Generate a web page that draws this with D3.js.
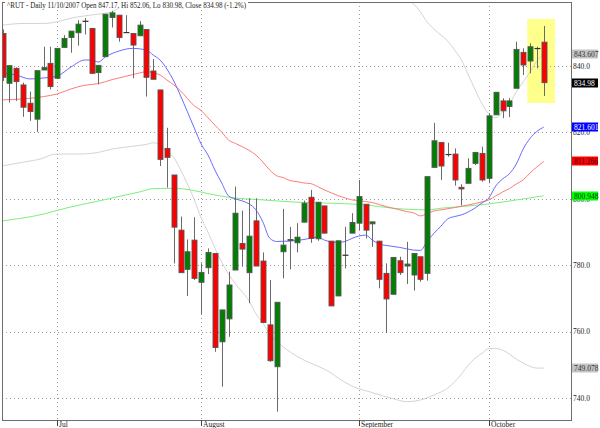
<!DOCTYPE html>
<html><head><meta charset="utf-8">
<script src="https://cdn.jsdelivr.net/npm/d3@7"></script>
<style>body{margin:0;background:#fff}svg{display:block}</style>
</head><body><svg id="c" width="600" height="428"></svg>
<script>
const dates = [
"2007-06-20","2007-06-21","2007-06-22","2007-06-25","2007-06-26","2007-06-27","2007-06-28","2007-06-29",
"2007-07-02","2007-07-03","2007-07-05","2007-07-06","2007-07-09","2007-07-10","2007-07-11","2007-07-12","2007-07-13",
"2007-07-16","2007-07-17","2007-07-18","2007-07-19","2007-07-20","2007-07-23","2007-07-24","2007-07-25","2007-07-26","2007-07-27","2007-07-30","2007-07-31",
"2007-08-01","2007-08-02","2007-08-03","2007-08-06","2007-08-07","2007-08-08","2007-08-09","2007-08-10","2007-08-13","2007-08-14","2007-08-15","2007-08-16","2007-08-17",
"2007-08-20","2007-08-21","2007-08-22","2007-08-23","2007-08-24","2007-08-27","2007-08-28","2007-08-29","2007-08-30","2007-08-31",
"2007-09-04","2007-09-05","2007-09-06","2007-09-07","2007-09-10","2007-09-11","2007-09-12","2007-09-13","2007-09-14",
"2007-09-17","2007-09-18","2007-09-19","2007-09-20","2007-09-21","2007-09-24","2007-09-25","2007-09-26","2007-09-27","2007-09-28",
"2007-10-01","2007-10-02","2007-10-03","2007-10-04","2007-10-05","2007-10-08","2007-10-09","2007-10-10","2007-10-11"];

const open = [849.8,834.8,839.3,834.3,828.8,824.0,838.8,840.8,836.3,845.6,
848.6,850.0,853.5,851.3,838.0,842.8,854.6,855.3,850.1,849.8,
849.1,851.0,838.5,832.8,815.2,807.2,790.6,778.8,787.6,774.9,
779.3,783.6,757.0,763.9,778.6,786.6,777.8,793.4,781.3,762.1,
749.5,784.1,787.8,786.8,793.0,800.5,788.0,797.9,787.3,770.8,
783.1,789.7,792.7,798.4,792.5,787.3,777.6,771.3,781.4,779.8,
777.1,782.6,777.6,809.5,817.0,813.4,813.5,803.5,804.7,810.7,
813.7,806.2,825.3,829.5,827.8,833.3,844.1,841.5,845.3,847.17];
const high = [851.0,840.1,839.6,835.0,832.3,838.6,845.8,845.8,845.3,849.3,
850.5,853.8,854.4,851.3,840.2,855.6,856.6,855.3,855.3,849.8,
853.5,851.0,842.1,832.8,821.4,807.2,794.7,787.8,794.5,780.6,
785.1,783.6,766.6,778.1,803.7,796.5,800.2,800.2,783.9,775.6,
768.9,797.0,791.6,792.7,799.5,802.7,799.0,797.9,787.3,787.4,
791.6,795.7,805.7,798.4,793.1,787.3,780.6,782.4,782.6,787.1,
783.6,782.6,806.7,822.9,817.0,816.9,815.2,804.4,812.2,814.0,
815.7,825.8,832.1,830.3,830.3,847.3,845.3,846.8,845.8,852.06];
const low = [835.5,829.0,829.5,824.7,823.5,820.2,838.8,833.0,836.3,845.6,
844.0,846.1,849.5,837.6,834.5,842.8,851.6,847.3,850.0,836.3,
849.1,830.8,836.0,809.9,803.4,780.6,777.8,770.8,775.6,765.4,
777.4,754.0,743.5,758.5,778.6,779.6,768.6,779.8,762.8,751.0,
736.0,776.1,778.8,783.9,793.0,786.8,787.4,789.7,767.8,770.8,
779.1,789.7,790.6,788.1,785.6,773.1,759.6,771.3,777.1,774.4,
772.4,775.1,775.4,809.5,805.7,812.7,804.0,798.0,804.7,810.2,
805.2,804.7,825.3,824.3,824.6,833.3,837.3,837.8,839.3,830.98];
const close = [836.6,840.1,835.3,827.6,826.3,838.6,839.5,833.8,845.3,848.3,
850.5,852.6,853.5,837.8,840.2,855.6,856.0,848.6,850.1,846.3,
852.3,836.6,836.0,811.9,812.5,791.5,777.8,784.1,776.1,777.9,
783.9,755.3,766.6,774.1,795.7,784.9,788.8,779.8,762.8,751.3,
768.9,786.1,787.5,788.5,798.7,788.1,799.0,789.7,767.8,787.4,
783.1,792.9,800.7,790.6,793.1,775.8,769.9,782.4,777.8,780.4,
783.6,775.8,806.7,817.5,809.9,813.4,805.7,803.0,809.2,814.0,
805.7,825.0,832.1,826.5,829.5,845.0,840.3,845.8,845.3,834.98];

// [candle index, value]
const maBlue = [[0,837.9],[2,837.3],[4,836.1],[6,836.4],[8,837.0],[10,839.7],[12,841.8],[13,841.8],[14,841.2],[15,842.7],[17,844.5],[19,845.3],[21,844.8],[22,843.3],[23,841.8],[24,839.1],[25,835.5],[26,831.0],[27,826.2],[28,821.3],[29,816.5],[30,813.2],[31,808.7],[32,804.8],[33,800.9],[34,800.0],[35,799.4],[36,798.5],[37,796.7],[38,793.1],[39,788.2],[40,787.2],[42,787.3],[44,787.8],[46,788.5],[47,787.6],[49,786.9],[50,787.2],[51,788.1],[52,788.8],[53,789.1],[54,787.6],[55,786.4],[56,786.0],[58,785.4],[60,784.6],[61,784.5],[62,787.3],[63,789.7],[64,791.8],[65,794.0],[66,794.7],[67,795.2],[68,796.1],[69,797.3],[70,798.8],[71,800.3],[72,803.9],[73,806.0],[74,807.6],[75,810.5],[76,815.0],[77,818.2],[78,820.3],[79,821.601]];
const maRed = [[0,829.8],[3,830.1],[6,830.8],[8,831.6],[10,833.1],[12,834.2],[14,834.7],[16,835.9],[18,836.9],[20,837.9],[21,838.3],[22,838.0],[23,837.3],[24,835.8],[25,834.3],[26,832.5],[27,830.2],[28,828.0],[29,826.6],[30,824.4],[31,822.2],[32,820.1],[33,817.7],[34,816.7],[35,815.7],[36,814.6],[37,813.2],[38,811.1],[39,808.7],[40,807.0],[41,806.4],[42,805.5],[43,805.2],[44,804.8],[45,804.6],[46,803.7],[47,802.7],[48,801.8],[49,801.0],[50,800.3],[51,799.7],[52,799.5],[53,799.2],[54,798.9],[55,798.3],[56,797.7],[57,797.2],[58,796.7],[59,796.2],[60,795.8],[61,794.9],[62,795.6],[63,796.4],[64,796.7],[66,797.4],[68,798.2],[70,799.1],[71,799.7],[72,800.9],[73,802.1],[74,803.1],[75,804.5],[76,805.7],[77,807.8],[78,809.6],[79,811.266]];
const maGreen = [[0,793.4],[5,795.0],[10,797.6],[15,799.8],[18,801.2],[20,802.1],[22,803.1],[25,803.2],[28,802.5],[30,801.6],[33,800.5],[38,799.7],[43,799.0],[48,798.7],[53,798.2],[57,797.2],[60,796.8],[62,796.7],[64,797.2],[67,797.7],[71,798.5],[76,800.0],[79,800.948]];
const bandUpper = [[0,852.3],[3,852.8],[6,852.8],[8,853.3],[10,854.4],[11,854.8],[14,855.6],[16,856.3],[17,857.5],[18,858.7],[19,860.5],[20,null],[58,null],[59,860.2],[60,858.7],[61,856.3],[62,853.2],[63,851.1],[64,849.3],[65,847.5],[66,844.8],[67,841.8],[68,837.3],[69,832.8],[70,828.6],[71,825.6],[72,824.4],[73,826.2],[74,828.6],[75,832.2],[76,835.2],[77,838.2],[78,841.5],[79,843.607]];
const bandLower = [[0,809.9],[2,810.7],[4,811.4],[6,812.3],[7,813.2],[8,813.5],[11,813.5],[13,813.7],[14,814.0],[16,815.0],[18,815.6],[20,816.1],[21,816.4],[22,816.9],[23,816.2],[24,814.1],[25,812.5],[26,808.7],[27,804.5],[28,799.7],[29,794.3],[30,790.0],[31,785.2],[32,781.0],[33,777.4],[34,774.4],[35,772.0],[36,769.3],[37,765.4],[38,762.7],[39,759.3],[40,757.2],[42,753.9],[44,751.5],[46,749.7],[48,747.6],[49,746.1],[51,743.7],[54,741.7],[57,739.9],[59,739.0],[61,739.5],[63,741.0],[65,743.1],[67,747.3],[68,750.0],[69,752.1],[70,753.6],[71,755.0],[72,755.0],[73,754.5],[74,753.3],[75,751.8],[76,750.6],[77,749.6],[78,749.1],[79,749.078]];

const yTicks = [740, 760, 780, 800, 820, 840];
const monthLabels = ["Jul", "August", "September", "October"];
const monthStarts = ["2007-07-02", "2007-08-01", "2007-09-04", "2007-10-01"];
const highlightIdx = [77, 79];
const changePct = "-1.2%";

const svg = d3.select("#c");
const L = 2, R = 571, T = 2, B = 420;
const font = "'Liberation Serif', 'Times New Roman', serif";

svg.append("rect").attr("width", 600).attr("height", 428).attr("fill", "#fff");

const x = d3.scalePoint().domain(dates).range([2.5, 543.7]);
const y = d3.scaleLinear().domain([740, 840]).range([398.3, 66]);
const step = x.step();
const xi = i => x(dates[i]);

svg.append("defs").append("clipPath").attr("id", "clip")
  .append("rect").attr("x", L).attr("y", T).attr("width", R - L).attr("height", B - T);

const plot = svg.append("g").attr("clip-path", "url(#clip)");

// highlight
const hi = d3.range(highlightIdx[0], highlightIdx[1] + 1);
const hTop = y(d3.max(hi, i => high[i])) - 7;
const hBot = y(d3.min(hi, i => low[i])) + 7;
plot.append("rect")
  .attr("x", xi(highlightIdx[0]) - step * 0.4)
  .attr("width", xi(highlightIdx[1]) + step * 1.65 - (xi(highlightIdx[0]) - step * 0.4))
  .attr("y", hTop).attr("height", hBot - hTop)
  .attr("fill", "#ffff8c");

// grid
plot.append("g").selectAll("line").data(yTicks).join("line")
  .attr("x1", L).attr("x2", R).attr("y1", d => Math.round(y(d)) + 0.5).attr("y2", d => Math.round(y(d)) + 0.5)
  .attr("stroke", "#999").attr("stroke-dasharray", "1,3");
plot.append("g").selectAll("line").data(monthStarts).join("line")
  .attr("x1", d => Math.round(x(d)) + 0.5).attr("x2", d => Math.round(x(d)) + 0.5)
  .attr("y1", T).attr("y2", B)
  .attr("stroke", "#999").attr("stroke-dasharray", "1,3");

// indicator lines
const line = d3.line().defined(d => d[1] !== null)
  .x(d => xi(d[0])).y(d => y(d[1])).curve(d3.curveMonotoneX);
const series = [
  [bandUpper, "#d4d4d4"], [bandLower, "#d4d4d4"],
  [maGreen, "#7cf07c"], [maRed, "#ff7a7a"], [maBlue, "#6a6aff"]
];
series.forEach(([data, col]) => {
  plot.append("path").datum(data).attr("d", line)
    .attr("fill", "none").attr("stroke", col).attr("stroke-width", 1);
});

// candles
const idx = d3.range(dates.length);
plot.append("g").selectAll("line").data(idx).join("line")
  .attr("x1", i => Math.round(xi(i)) + 0.5).attr("x2", i => Math.round(xi(i)) + 0.5)
  .attr("y1", i => y(high[i])).attr("y2", i => y(low[i]))
  .attr("stroke", "#6a6a6a").attr("stroke-width", 1);
const bw = 5;
plot.append("g").selectAll("rect").data(idx).join("rect")
  .attr("x", i => Math.round(xi(i)) + 0.5 - bw / 2)
  .attr("width", bw)
  .attr("y", i => y(Math.max(open[i], close[i])))
  .attr("height", i => Math.max(Math.abs(y(open[i]) - y(close[i])), 0.3))
  .attr("fill", i => close[i] > open[i] ? "#008000" : (close[i] < open[i] ? "#ff0000" : "#333"))
  .attr("stroke", i => close[i] === open[i] ? "#333" : "#555")
  .attr("stroke-width", 0.9);

// frame
svg.append("rect").attr("x", L + 0.5).attr("y", T + 0.5).attr("width", R - L).attr("height", B - T)
  .attr("fill", "none").attr("stroke", "#6e6e6e").attr("stroke-width", 1);

// y axis labels
svg.append("g").selectAll("text").data(yTicks).join("text")
  .attr("x", R + 2).attr("y", d => y(d)).attr("dy", "0.35em")
  .attr("font-family", font).attr("font-size", 7.5).attr("fill", "#222")
  .text(d => d3.format(".1f")(d));

// month ticks and labels
svg.append("g").selectAll("line").data(monthStarts).join("line")
  .attr("x1", d => Math.round(x(d)) + 0.5).attr("x2", d => Math.round(x(d)) + 0.5)
  .attr("y1", B).attr("y2", B + 6).attr("stroke", "#444");
svg.append("g").selectAll("text").data(monthStarts).join("text")
  .attr("x", d => Math.round(x(d)) + 2).attr("y", B + 7)
  .attr("font-family", font).attr("font-size", 7.5).attr("fill", "#222")
  .text((d, i) => monthLabels[i]);

// value labels
const last = dates.length - 1;
const lastOf = a => a[a.length - 1][1];
const vlabels = [
  { v: lastOf(bandUpper), f: ".3f", bg: "#c4c4c4", fg: "#333" },
  { v: close[last], f: ".2f", bg: "#000", fg: "#fff" },
  { v: lastOf(maBlue), f: ".3f", bg: "#0000ff", fg: "#fff" },
  { v: lastOf(maRed), f: ".3f", bg: "#ff0000", fg: "#400" },
  { v: lastOf(maGreen), f: ".3f", bg: "#00ff00", fg: "#030" },
  { v: lastOf(bandLower), f: ".3f", bg: "#c4c4c4", fg: "#333" }
];
const vg = svg.append("g").selectAll("g").data(vlabels).join("g")
  .attr("transform", d => `translate(${R + 1},${Math.round(y(d.v))})`);
vg.append("rect").attr("x", 0).attr("y", -4.5).attr("width", 26).attr("height", 9).attr("fill", d => d.bg);
vg.append("text").attr("x", 2).attr("y", 0).attr("dy", "0.35em")
  .attr("font-family", font).attr("font-size", 7.5).attr("fill", d => d.fg)
  .text(d => d3.format(d.f)(d.v));

// title
const ttl = `^RUT - Daily 11/10/2007 Open ${open[last]}, Hi ${high[last]}, Lo ${low[last]}, Close ${close[last]} (${changePct})`;
svg.append("rect").attr("x", 5).attr("y", 0).attr("width", 243).attr("height", 9).attr("fill", "#fff");
svg.append("text").attr("x", 7).attr("y", 7.5)
  .attr("font-family", font).attr("font-size", 8).attr("fill", "#222")
  .attr("textLength", 239).attr("lengthAdjust", "spacingAndGlyphs")
  .text(ttl);
</script></body></html>
